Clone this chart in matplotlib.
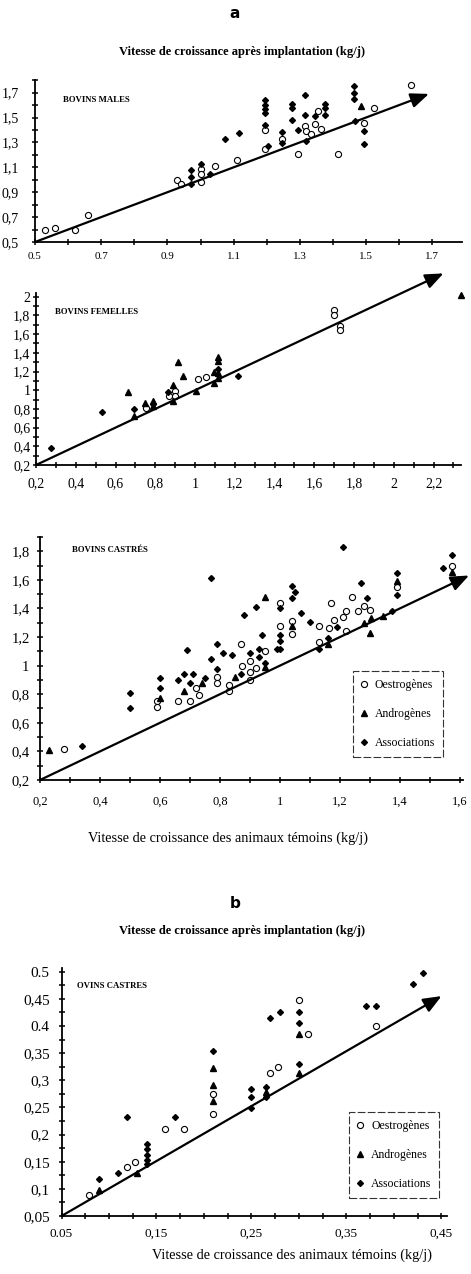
import matplotlib.pyplot as plt
import numpy as np
from matplotlib.ticker import FixedLocator

plt.rcParams["font.family"] = ["Liberation Serif", "DejaVu Serif"]

W, H = 471, 1274
fig = plt.figure(figsize=(W / 100, H / 100), dpi=100)

# ---------------- data ----------------
# Bovins males
male_oes_x = [0.53, 0.56, 0.62, 0.66, 0.93, 0.94, 1.00, 1.00, 1.00, 1.045, 1.11, 1.195, 1.195,
              1.245, 1.295, 1.315, 1.32, 1.335, 1.345, 1.355, 1.365, 1.415, 1.495, 1.525, 1.635]
male_oes_y = [0.60, 0.61, 0.60, 0.72, 1.00, 0.97, 1.09, 1.05, 0.98, 1.11, 1.155, 1.40, 1.25,
              1.33, 1.21, 1.43, 1.39, 1.37, 1.45, 1.55, 1.41, 1.21, 1.46, 1.575, 1.76]
male_and_x = [1.485]
male_and_y = [1.59]
male_ass_x = [0.97, 0.97, 0.97, 1.00, 1.03, 1.075, 1.115, 1.195, 1.195, 1.195, 1.195, 1.195,
              1.205, 1.245, 1.245, 1.275, 1.275, 1.275, 1.295, 1.317, 1.317, 1.319, 1.347,
              1.375, 1.375, 1.375, 1.464, 1.464, 1.464, 1.466, 1.495, 1.495]
male_ass_y = [1.08, 1.02, 0.97, 1.13, 1.05, 1.33, 1.375, 1.64, 1.60, 1.57, 1.54, 1.44,
              1.27, 1.38, 1.295, 1.61, 1.58, 1.48, 1.40, 1.68, 1.52, 1.315, 1.51,
              1.61, 1.58, 1.52, 1.75, 1.70, 1.65, 1.475, 1.39, 1.29]

# Bovins femelles
fem_oes_x = [0.753, 0.87, 0.90, 0.90, 1.016, 1.055, 1.70, 1.70, 1.73, 1.73]
fem_oes_y = [0.81, 0.94, 0.99, 0.94, 1.12, 1.14, 1.855, 1.81, 1.685, 1.64]
fem_and_x = [0.664, 0.694, 0.748, 0.787, 0.787, 0.888, 0.888, 0.916, 0.938, 1.005, 1.097,
             1.097, 1.117, 1.117, 1.117, 1.117, 2.34]
fem_and_y = [0.978, 0.724, 0.866, 0.888, 0.83, 1.056, 0.89, 1.30, 1.155, 0.995, 1.198,
             1.08, 1.358, 1.315, 1.187, 1.127, 2.02]
fem_ass_x = [0.274, 0.534, 0.694, 0.787, 0.866, 1.117, 1.218]
fem_ass_y = [0.385, 0.764, 0.80, 0.852, 0.984, 1.23, 1.155]

# Bovins castres
cas_oes_x = [0.28, 0.59, 0.59, 0.66, 0.70, 0.72, 0.73, 0.79, 0.79, 0.83, 0.83, 0.87, 0.875,
             0.90, 0.90, 0.90, 0.92, 0.95, 1.00, 1.00, 1.04, 1.04, 1.13, 1.13, 1.165, 1.17,
             1.18, 1.21, 1.22, 1.22, 1.24, 1.26, 1.28, 1.30, 1.39, 1.575]
cas_oes_y = [0.42, 0.75, 0.71, 0.75, 0.755, 0.84, 0.795, 0.92, 0.875, 0.865, 0.82, 1.15, 1.00,
             1.035, 0.955, 0.90, 0.985, 1.105, 1.28, 1.44, 1.22, 1.315, 1.28, 1.165, 1.26, 1.44,
             1.32, 1.34, 1.385, 1.245, 1.48, 1.385, 1.42, 1.39, 1.55, 1.70]
cas_and_x = [0.23, 0.60, 0.68, 0.74, 0.85, 0.95, 0.95, 1.04, 1.16, 1.28, 1.30, 1.305, 1.345,
             1.39, 1.575]
cas_and_y = [0.41, 0.776, 0.825, 0.88, 0.918, 0.99, 1.48, 1.275, 1.15, 1.30, 1.23, 1.335, 1.347,
             1.59, 1.653]
cas_ass_x = [0.34, 0.50, 0.50, 0.60, 0.60, 0.66, 0.68, 0.69, 0.70, 0.71, 0.75, 0.77, 0.77, 0.79,
             0.79, 0.81, 0.84, 0.87, 0.88, 0.90, 0.92, 0.93, 0.93, 0.94, 0.95, 0.99, 1.00, 1.00,
             1.00, 1.00, 1.04, 1.04, 1.05, 1.07, 1.10, 1.13, 1.16, 1.19, 1.21, 1.27, 1.29,
             1.375, 1.39, 1.39, 1.545, 1.575]
cas_ass_y = [0.44, 0.81, 0.705, 0.91, 0.84, 0.90, 0.94, 1.11, 0.88, 0.94, 0.915, 1.045, 1.61, 1.15,
             0.975, 1.085, 1.075, 0.94, 1.355, 1.085, 1.41, 1.115, 1.06, 1.215, 1.015, 1.115, 1.115,
             1.175, 1.215, 1.405, 1.56, 1.475, 1.515, 1.37, 1.305, 1.115, 1.195, 1.27, 1.83, 1.575,
             1.47, 1.385, 1.65, 1.495, 1.68, 1.77]

# Ovins castres
ov_oes_x = [0.079, 0.119, 0.127, 0.159, 0.179, 0.21, 0.21, 0.27, 0.278, 0.30, 0.31, 0.381]
ov_oes_y = [0.089, 0.141, 0.15, 0.211, 0.211, 0.274, 0.238, 0.313, 0.325, 0.448, 0.385, 0.399]
ov_and_x = [0.089, 0.129, 0.21, 0.21, 0.21, 0.265, 0.30, 0.30]
ov_and_y = [0.098, 0.129, 0.322, 0.291, 0.262, 0.279, 0.314, 0.385]
ov_ass_x = [0.089, 0.109, 0.119, 0.14, 0.14, 0.14, 0.14, 0.14, 0.169, 0.209, 0.25, 0.25, 0.25,
            0.265, 0.265, 0.269, 0.28, 0.30, 0.30, 0.30, 0.371, 0.381, 0.42, 0.431]
ov_ass_y = [0.119, 0.129, 0.233, 0.183, 0.173, 0.162, 0.153, 0.146, 0.233, 0.354, 0.283, 0.269,
            0.248, 0.288, 0.27, 0.414, 0.425, 0.426, 0.405, 0.33, 0.437, 0.437, 0.477, 0.498]

# tick labels
male_xticks = [0.5, 0.7, 0.9, 1.1, 1.3, 1.5, 1.7]
male_xlabels = ["0.5", "0.7", "0.9", "1.1", "1.3", "1.5", "1.7"]
male_yticks = [0.5, 0.7, 0.9, 1.1, 1.3, 1.5, 1.7]
male_ylabels = ["0,5", "0,7", "0,9", "1,1", "1,3", "1,5", "1,7"]
fem_xticks = [0.2, 0.4, 0.6, 0.8, 1.0, 1.2, 1.4, 1.6, 1.8, 2.0, 2.2]
fem_xlabels = ["0,2", "0,4", "0,6", "0,8", "1", "1,2", "1,4", "1,6", "1,8", "2", "2,2"]
fem_yticks = [0.2, 0.4, 0.6, 0.8, 1.0, 1.2, 1.4, 1.6, 1.8, 2.0]
fem_ylabels = ["0,2", "0,4", "0,6", "0,8", "1", "1,2", "1,4", "1,6", "1,8", "2"]
cas_xticks = [0.2, 0.4, 0.6, 0.8, 1.0, 1.2, 1.4, 1.6]
cas_xlabels = ["0,2", "0,4", "0,6", "0,8", "1", "1,2", "1,4", "1,6"]
cas_yticks = [0.2, 0.4, 0.6, 0.8, 1.0, 1.2, 1.4, 1.6, 1.8]
cas_ylabels = ["0,2", "0,4", "0,6", "0,8", "1", "1,2", "1,4", "1,6", "1,8"]
ov_xticks = [0.05, 0.15, 0.25, 0.35, 0.45]
ov_xlabels = ["0.05", "0,15", "0,25", "0,35", "0,45"]
ov_yticks = [0.05, 0.1, 0.15, 0.2, 0.25, 0.3, 0.35, 0.4, 0.45, 0.5]
ov_ylabels = ["0,05", "0,1", "0,15", "0,2", "0,25", "0,3", "0,35", "0.4", "0,45", "0.5"]

legend_labels = ["Oestrogènes", "Androgènes", "Associations"]


def fx(px):
    return px / W


def fy(py):
    return 1 - py / H


def make_panel(box, xlim, ylim, xspan, yspan, xstep, ystep,
               xticks, xlabels, yticks, ylabels, xsize, ysize, xpad, ypad):
    left, top, right, bottom = box
    ax = fig.add_axes([fx(left), fy(bottom), (right - left) / W, (bottom - top) / H])
    ax.set_xlim(*xlim)
    ax.set_ylim(*ylim)
    for s in ["top", "right"]:
        ax.spines[s].set_visible(False)
    ax.spines["left"].set_bounds(*yspan)
    ax.spines["bottom"].set_bounds(*xspan)
    for s in ["left", "bottom"]:
        ax.spines[s].set_linewidth(1.3)
    ax.xaxis.set_major_locator(FixedLocator(xticks))
    ax.set_xticklabels(xlabels)
    ax.yaxis.set_major_locator(FixedLocator(yticks))
    ax.set_yticklabels(ylabels)
    ax.xaxis.set_minor_locator(FixedLocator(np.arange(xspan[0], xspan[1] + 1e-6, xstep)))
    ax.yaxis.set_minor_locator(FixedLocator(np.arange(yspan[0], yspan[1] + 1e-6, ystep)))
    ax.tick_params(which="both", direction="inout", length=5, width=1.1, color="black")
    ax.tick_params(axis="x", which="major", pad=xpad, labelsize=xsize)
    ax.tick_params(axis="y", which="major", pad=ypad, labelsize=ysize)
    return ax


def draw_points(ax, oes, andr, ass):
    ax.plot(oes[0], oes[1], "o", ms=4.4, mfc="white", mec="black", mew=0.8,
            ls="none", clip_on=False, label=legend_labels[0])
    ax.plot(andr[0], andr[1], "^", ms=4.5, color="black", ls="none",
            clip_on=False, label=legend_labels[1])
    ax.plot(ass[0], ass[1], "D", ms=3.0, color="black", ls="none",
            clip_on=False, label=legend_labels[2])


def draw_arrow(ax, start, end):
    ax.annotate("", xy=end, xytext=start, annotation_clip=False,
                arrowprops=dict(arrowstyle="-|>,head_length=1.1,head_width=0.45",
                                mutation_scale=10, lw=1.6, color="black",
                                shrinkA=0, shrinkB=0))


def add_legend(ax, anchor):
    leg = ax.legend(loc="lower left", bbox_to_anchor=anchor, frameon=True, fancybox=False,
                    edgecolor="black", handlelength=0.6, handletextpad=0.6,
                    labelspacing=1.45, borderpad=0.65, borderaxespad=0,
                    prop={"size": 8.5})
    frame = leg.get_frame()
    frame.set_linestyle((0, (7, 2)))
    frame.set_linewidth(0.8)


# ---------------- panel 1 : bovins males ----------------
ax1 = make_panel((35, 80.2, 462, 242), (0.5, 1.79), (0.5, 1.8), (0.5, 1.79), (0.5, 1.8),
                 0.1, 0.1, male_xticks, male_xlabels, male_yticks, male_ylabels,
                 xsize=8, ysize=10, xpad=5, ypad=9)
draw_arrow(ax1, (0.5, 0.5), (1.69, 1.69))
draw_points(ax1, (male_oes_x, male_oes_y), (male_and_x, male_and_y), (male_ass_x, male_ass_y))

# ---------------- panel 2 : bovins femelles ----------------
ax2 = make_panel((36, 268.7, 463.4, 465), (0.2, 2.35), (0.2, 2.3), (0.2, 2.34), (0.2, 2.04),
                 0.1, 0.1, fem_xticks, fem_xlabels, fem_yticks, fem_ylabels,
                 xsize=10, ysize=10, xpad=6.5, ypad=1.5)
draw_arrow(ax2, (0.2, 0.2), (2.25, 2.25))
draw_points(ax2, (fem_oes_x, fem_oes_y), (fem_and_x, fem_and_y), (fem_ass_x, fem_ass_y))

# ---------------- panel 3 : bovins castres ----------------
ax3 = make_panel((40, 536.9, 463, 780), (0.2, 1.61), (0.2, 1.9), (0.2, 1.61), (0.2, 1.9),
                 0.1, 0.1, cas_xticks, cas_xlabels, cas_yticks, cas_ylabels,
                 xsize=9, ysize=10.5, xpad=9, ypad=5)
draw_arrow(ax3, (0.2, 0.2), (1.63, 1.63))
draw_points(ax3, (cas_oes_x, cas_oes_y), (cas_and_x, cas_and_y), (cas_ass_x, cas_ass_y))
add_legend(ax3, (0.74, 0.095))

# ---------------- panel 4 : ovins castres ----------------
ax4 = make_panel((61.5, 968.4, 447.2, 1216), (0.05, 0.456), (0.05, 0.506), (0.05, 0.456),
                 (0.05, 0.506), 0.025, 0.025, ov_xticks, ov_xlabels, ov_yticks, ov_ylabels,
                 xsize=9.5, ysize=11, xpad=6, ypad=6)
draw_arrow(ax4, (0.05, 0.05), (0.45, 0.455))
draw_points(ax4, (ov_oes_x, ov_oes_y), (ov_and_x, ov_and_y), (ov_ass_x, ov_ass_y))
add_legend(ax4, (0.746, 0.073))

# ---------------- texts ----------------
sans_bold = dict(family=["DejaVu Sans"], weight="bold", size=11, ha="center", va="center")
fig.text(fx(235), fy(13), "a", **sans_bold)
fig.text(fx(235), fy(903), "b", **sans_bold)

title = "Vitesse de croissance après implantation (kg/j)"
fig.text(fx(242), fy(52), title, ha="center", va="center", size=9, weight="bold")
fig.text(fx(242), fy(931), title, ha="center", va="center", size=9, weight="bold")

xlab = "Vitesse de croissance des animaux témoins (kg/j)"
fig.text(fx(228), fy(838), xlab, ha="center", va="center", size=10.3)
fig.text(fx(292), fy(1255), xlab, ha="center", va="center", size=10.3)

panel_kw = dict(ha="left", va="center", size=6.3, weight="bold")
fig.text(fx(63), fy(100), "BOVINS MALES", **panel_kw)
fig.text(fx(55), fy(312), "BOVINS FEMELLES", **panel_kw)
fig.text(fx(72), fy(550), "BOVINS CASTRÉS", **panel_kw)
fig.text(fx(77), fy(986), "OVINS CASTRES", **panel_kw)

fig.savefig("out.png", dpi=100, facecolor="white")
